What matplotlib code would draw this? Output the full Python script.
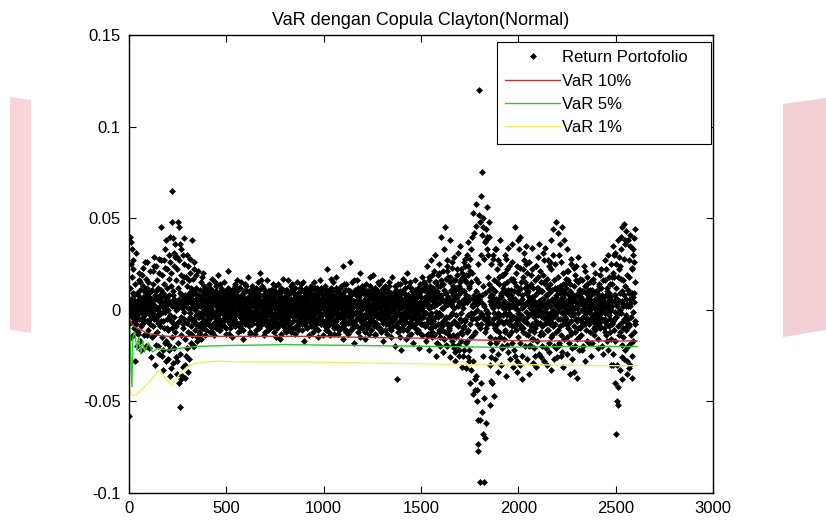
import numpy as np
import matplotlib
matplotlib.use('Agg')
import matplotlib.pyplot as plt
from matplotlib.patches import Polygon
from matplotlib.ticker import FuncFormatter

plt.rcParams['font.family'] = ['Liberation Sans', 'DejaVu Sans']

# Portfolio returns (units of 0.001) on odd days 1,3,5,...; rows of 20 points (40 days)
ret_odd_rows = [
    [-58, 4, 40, -2, 25, 37, -3, 1, 33, -14, 2, 27, -6, 8, -28, 5, 3, -11, 1, -20],
    [9, -4, 2, -13, 6, 20, -1, 3, -1, 15, -22, 5, 1, -8, 0, 23, -6, 4, -3, 10],
    [-6, 2, 17, -2, 7, -14, 4, 26, -1, 0, 9, -21, 3, 3, -5, 1, -26, 6, 11, -2],
    [21, -3, 3, 29, -5, 8, -30, 2, 1, -5, 24, -12, 6, 6, -20, 0, -3, 28, -9, 2],
    [-2, 45, 7, -25, 4, 2, -33, 9, -6, 27, 1, -18, 33, -1, 5, -28, 7, -10, 22, 0],
    [3, -22, 30, 8, -36, 40, -3, 4, -6, 48, 65, -10, 8, -29, 31, 6, -4, 2, 36, -8],
    [-26, 0, 4, 29, -35, 1, 48, -40, 45, 6, -53, 5, -4, 33, -38, 8, 2, -31, 3, -8],
    [39, -1, 18, -37, 6, 3, -25, 2, 30, -7, 7, -34, 1, -5, 5, 28, -2, 9, -13, 4],
    [-9, 6, 38, -20, 5, 1, -5, 22, -7, 0, 9, -7, 6, -17, 3, 3, -4, 7, 2, -12],
    [5, -8, 2, 3, -16, 2, -4, 18, -3, 7, -10, 4, 0, 10, -1, 12, -6, 4, 2, -5],
    [6, -3, 11, -8, 2, 14, -5, 4, -12, 9, 1, -4, 17, -10, 5, -1, 10, -7, 3, -14],
    [-3, 8, -10, 4, 13, -2, 6, -7, 1, 19, -5, 9, 0, -11, 5, 3, -9, 12, -2, 7],
    [9, -5, 2, 15, -9, 4, -1, 10, -13, 3, 7, -4, 0, 12, -6, 21, -2, 5, -10, 1],
    [-8, 4, 9, -3, 6, -15, 2, 8, -1, 11, -5, 2, 14, -9, 4, -2, 8, -7, 16, 0],
    [5, -9, 12, 1, -4, 7, -11, 3, 15, -2, 8, -6, 4, -16, 10, 0, -4, 6, -8, 13],
    [-2, 10, -6, 5, 18, -4, 2, -9, 7, 4, -12, 6, -1, 9, -5, 13, -7, 2, 11, -3],
    [7, -5, 3, -13, 9, 0, 12, -3, 5, -8, 1, 15, -6, 4, -10, 8, -2, 20, -6, 3],
    [-6, 13, 1, -7, 4, 8, -14, 6, -3, 10, -4, 2, 7, -9, 16, -1, 5, -11, 9, 0],
    [10, -1, -10, 6, 3, -5, 11, -8, 1, 14, -3, 5, -12, 8, -2, 10, -6, 3, -15, 5],
    [1, -9, 14, -4, 7, -2, 5, -16, 9, 3, -6, 12, 0, 6, -9, 2, 17, -5, 7, -11],
    [-6, 3, 9, -12, 1, 11, -5, 6, -2, 16, -8, 4, 10, -3, -7, 13, 1, -10, 5, 2],
    [11, -3, 6, 2, -10, 8, 0, -13, 7, 4, -6, 15, -10, 3, 9, -4, 6, -1, 12, -8],
    [-4, 14, -7, 5, 1, -11, 10, -3, 6, -17, 4, 8, -5, 12, 0, -9, 5, 10, -3, 7],
    [3, -6, 10, -14, 8, 1, -4, 13, -9, 5, 2, -12, 7, -1, 15, -6, 4, -10, 9, -2],
    [-10, 6, 1, 12, -5, 9, -15, 3, 0, 10, -7, 16, 3, -8, 5, -3, 11, -6, 1, 8],
    [6, -2, 13, -7, 4, -11, 9, 1, -5, 22, -9, 4, 11, -3, 7, -14, 2, 8, -4, 12],
    [-8, 10, -1, 5, 15, -6, 3, -10, 7, 0, 12, -5, 18, -9, 2, 6, -13, 10, -3, 4],
    [9, -4, 7, -10, 1, 13, -3, 8, -16, 5, 24, -6, 4, -1, 11, -8, 4, 14, -11, 1],
    [-3, 7, -13, 11, -6, 3, 26, -7, 10, -4, 6, -10, 1, 15, -7, 9, -2, 5, -18, 11],
    [4, -9, 10, -1, 16, -5, 2, -12, 7, 11, -4, 8, -15, 4, 20, -6, 1, -10, 13, -3],
    [-7, 12, 3, -8, 5, -16, 9, 1, -4, 14, -10, 7, -2, 10, 4, -13, 8, -1, 18, -7],
    [8, -2, -11, 6, 10, -6, 1, 19, -9, 4, -3, 12, -14, 7, 2, -7, 11, -4, 5, 9],
    [-10, 5, 14, -4, 1, 8, -12, 7, -1, 11, 16, -7, 3, -17, 9, -5, 6, 13, -2, -8],
    [4, -13, 7, 11, -7, 2, 10, -4, 15, -10, 5, -1, 8, -11, 4, 18, -6, 1, -9, 7],
    [-5, 9, -20, 4, 13, -2, 7, -38, 10, -7, 3, 14, -10, 1, 8, -15, 10, -4, 6, -22],
    [10, -6, 2, -11, 17, 5, -8, 9, -1, 12, -16, 4, 7, -4, 20, -10, 1, 8, -7, 13],
    [-4, 15, -9, 6, 1, -13, 10, 4, -18, 7, 11, -3, 5, -10, 2, 16, -7, 9, -1, -12],
    [7, -11, 12, -2, 8, -21, 4, 14, -5, 10, -8, 1, 18, -14, 6, -4, 11, -8, 15, 3],
    [-9, 14, -17, 5, 24, -7, 11, -13, 2, 18, -22, 8, -4, 13, -10, 27, -2, 7, -15, 9],
    [12, -6, 21, -14, 4, 30, -9, 15, -25, 3, 10, -18, 19, -4, 7, -12, 25, -2, 13, -20],
    [-8, 16, 40, -11, 6, -23, 14, 1, -16, 33, -5, 9, 45, -19, 3, 21, -8, 27, -13, 7],
    [18, -10, 4, -26, 15, 38, -3, 11, -17, 23, 2, -14, 8, 29, -21, 6, -7, 16, -28, 12],
    [-15, 22, 7, -8, 31, -19, 13, 3, -25, 10, 35, -6, 17, -12, 5, -31, 20, 1, -10, 26],
    [10, -22, 28, -6, 15, -32, 19, 4, -17, 37, -11, 24, -28, 7, 13, -40, 21, -2, 33, -15],
    [-4, 40, -46, 2, 53, -13, 6, -44, 7, -38, 46, -5, 17, -50, 3, -77, 25, -73, 8, 120],
    [-94, 5, -60, 30, -8, 41, 75, -3, 50, -68, 13, -94, 2, -70, 37, -5, 44, -10, 56, -2],
    [33, -4, 18, 48, -7, 11, -52, 7, -15, 25, -39, 2, -22, 8, 30, -5, 16, -47, 3, -10],
    [-27, 6, -11, 33, -4, 5, 27, -34, 2, -6, 14, -16, 38, -3, 9, -30, 8, 3, -21, 1],
    [19, -3, 11, -7, 30, -12, 4, 9, -36, 1, -3, 22, -23, 8, 34, -2, 1, -27, 7, -6],
    [11, -5, 36, -9, 2, -31, 6, 17, -4, 2, -25, 6, 45, -7, -11, 3, 24, -34, 0, -2],
    [-8, 33, -3, 12, -30, 40, 4, -10, 6, -38, 1, 22, -12, 2, 31, -5, 15, -6, 35, -1],
    [25, -4, 9, -27, 3, 4, -20, 7, -35, 13, 2, -9, 19, -2, 7, 34, -16, 0, -29, 5],
    [-12, 4, -25, 8, 1, -31, 24, 2, -8, 29, -3, 12, -2, 36, -14, 5, 0, -26, 10, 3],
    [6, -20, 31, -1, 6, 15, -28, 3, -4, 34, -7, 1, -11, 8, -30, 27, 3, -5, 9, -23],
    [-8, 26, 2, -33, 38, -7, 5, -14, 0, 44, -2, 5, -27, 12, -3, 8, -21, 48, -1, 4],
    [12, -5, 42, -18, 1, 30, -9, 36, 4, -25, 6, 45, -1, 14, -31, 2, 38, -6, 9, -2],
    [-4, 17, -8, 5, -24, 33, 0, -10, 21, -1, 8, -35, 3, 2, -12, 25, -3, 7, -27, 1],
    [8, -2, 23, -34, 1, 5, -20, 4, 16, -37, 1, -6, 9, -5, 29, -15, 7, 3, -10, 11],
    [-9, 6, -22, 0, 10, -4, 3, 24, -8, 2, -28, 4, -4, 9, -2, 6, 18, -6, 1, -7],
    [3, -18, 6, 11, 0, 5, -25, 2, 2, -4, 15, -6, 25, -10, 1, 4, -11, 4, -7, 10],
    [-1, 9, -5, 2, -21, 7, 14, -3, 3, 6, -9, 0, -2, 22, -5, 6, 3, -24, 1, 7],
    [5, -12, 27, -2, 1, -6, 10, 4, -17, 3, 30, -2, 7, -9, 14, -5, 7, -30, 0, 18],
    [-8, 2, -30, 35, 8, -5, 18, -1, 31, -40, 4, -68, 6, -50, 2, -52, 38, -2, 5, 29],
    [0, -33, 40, -2, 17, -38, 5, 45, -10, 3, -27, 8, 47, -6, 36, -3, 2, 43, -9, -35],
    [-5, 38, 2, -32, 9, -8, 41, 6, -18, 4, -4, 23, -37, 7, 30, -1, 9, 39, -6, 15],
]

# Portfolio returns (units of 0.001) on even days 2,4,6,...
ret_even_rows = [
    [3, -7, 12, 0, -15, 6, 18, -4, 9, -1, 22, -10, 5, 1, -6, 14, -2, 31, -8, 4],
    [-3, 8, -12, 2, 16, -5, 0, 11, -17, 6, 3, -9, 19, -1, 7, -4, 13, -14, 2, 26],
    [5, -2, 9, -20, 1, 12, -6, 4, 15, -11, 0, 7, -3, 21, -8, 10, 2, -15, 6, -1],
    [-9, 14, 0, -4, 24, -13, 6, 2, -19, 10, -3, 16, 1, -7, 12, -24, 5, 20, -2, 8],
    [11, -6, 27, -15, 3, 19, -1, -22, 8, 14, -10, 2, 23, -17, 6, 38, -5, 12, -27, 4],
    [-11, 17, 5, -19, 26, -4, 13, -32, 20, 2, -15, 39, -7, 10, 24, -21, 4, -12, 29, 1],
    [16, -9, 22, -28, 3, 12, -18, 27, -6, 36, -24, 9, 19, -14, 1, -36, 15, 30, -10, 6],
    [-5, 25, -16, 8, -30, 18, 2, 13, -21, 5, 24, -12, 16, -27, 9, -4, 20, -18, 1, 12],
    [8, -14, 3, 17, -6, 26, -20, 10, 1, -11, 19, -3, 12, 2, -15, 8, 21, -9, 5, -2],
    [-4, 11, -13, 6, 15, -2, 8, -10, 3, 20, -6, 0, 13, -8, 5, -14, 9, 1, -11, 6],
    [2, -6, 8, 0, -3, 5, -9, 12, 1, -4, 7, -2, 3, -12, 6, 9, -1, 4, -7, 15],
    [-1, 4, -5, 10, 2, -8, 6, 0, -3, 8, -11, 3, 14, -2, 1, -6, 5, 11, -9, 2],
    [4, -2, 7, -6, 1, 9, -3, 5, 2, -10, 6, -1, 8, -4, 3, -13, 10, 0, 6, -5],
    [-2, 6, 1, 11, -7, 3, -4, 0, 8, -5, 13, -9, 2, 5, -3, 7, -1, 10, -12, 4],
    [6, -3, 2, -9, 5, 12, -1, 7, -6, 3, 0, 9, -11, 4, 1, -5, 14, -3, 6, -1],
    [1, 5, -8, 3, -2, 7, 10, -4, 0, -13, 6, 2, -6, 9, 4, -1, -8, 5, 12, -3],
    [-5, 2, 9, -1, 6, -11, 3, 8, -2, 5, -7, 1, 11, -4, 7, 2, -9, 4, -2, 16],
    [3, -7, 5, 12, -3, 1, -5, 0, 9, -12, 4, 7, -1, 3, -6, 10, 1, -3, 8, -8],
    [-3, 8, 0, -6, 11, -2, 6, 3, -9, 2, 7, -4, 1, 13, -7, 4, -1, 9, 2, -10],
    [5, -1, 6, 2, -8, 10, -4, 3, 0, 7, -13, 5, 2, -3, 11, -6, 1, -2, 6, 3],
    [0, -4, 11, -7, 3, 1, 8, -10, 5, -2, 4, -6, 9, 1, -3, 6, -12, 3, 14, -1],
    [-6, 3, -1, 9, -4, 12, 2, -3, 6, -9, 1, 5, -2, 8, -11, 0, 7, -5, 3, 10],
    [7, -2, 4, -8, 1, 6, -5, 15, -1, 3, -7, 10, 2, -4, 5, -10, 1, 8, -3, 0],
    [-3, 9, -6, 2, 5, -1, 11, -7, 3, 0, 8, -3, -9, 6, 2, -5, 12, -2, 4, -8],
    [4, 1, -5, 7, -11, 3, 0, 9, -4, 6, -2, 1, -8, 12, 3, -6, 2, 7, -14, 5],
    [-2, 6, 3, -9, 4, 11, -3, 5, 0, -7, 8, -1, 3, -12, 6, 2, -4, 17, -6, 1],
    [5, -8, 1, 4, -3, 8, -13, 2, 7, -1, 3, -6, 10, 0, -9, 5, 2, -3, 9, -11],
    [-4, 3, 12, -2, 6, -7, 1, 4, -10, 9, 2, -5, 14, -3, 7, -1, -12, 5, 1, 6],
    [2, -7, 5, 0, -4, 10, -2, 8, 3, -11, 6, -3, 1, 9, -6, 4, 16, -8, 3, -2],
    [-6, 4, -1, 8, 3, -9, 6, -4, 12, 1, -2, 7, -10, 5, 0, 11, -5, 3, -7, 9],
    [3, -5, 9, -3, 1, 6, -12, 4, 2, -7, 10, 0, -4, 6, -9, 3, 1, 13, -2, -6],
    [-1, 7, -4, 2, 11, -6, 3, 0, 8, -3, 5, -13, 4, 9, -2, 6, -8, 1, 15, -4],
    [6, -2, 3, -10, 5, 1, 9, -5, -1, 7, -4, 12, -7, 2, 4, -3, 10, -11, 3, 0],
    [-5, 10, 1, -3, 7, -8, 4, 13, -2, 5, 0, -6, 9, -15, 3, 6, -1, 8, -4, 2],
    [2, -4, 7, -1, -9, 5, 11, -3, 6, 1, -12, 4, -2, 8, -6, 3, 14, -5, 1, -10],
    [-3, 6, -8, 4, 2, -1, 9, -6, 15, -4, 3, 7, -11, 1, 5, -2, 8, -14, 6, 2],
    [5, -1, 4, -7, 12, 3, -5, 8, 0, -9, 6, 2, -3, 11, -8, 4, 1, -5, 9, -2],
    [-2, 8, -6, 3, 1, 10, -4, 0, 7, -13, 5, 2, -8, 4, 12, -3, 6, -1, -9, 7],
    [4, -8, 12, -2, 7, -14, 3, 9, -5, 1, 16, -10, 6, -3, 11, -7, 2, 19, -12, 5],
    [-6, 10, 2, -13, 8, -4, 15, -1, 6, -18, 9, 3, -8, 13, -2, 20, -11, 4, 7, -15],
    [8, -3, 14, -9, 1, 21, -6, 5, -16, 11, 2, -12, 17, -4, 9, -20, 6, 24, -8, 3],
    [-11, 6, -4, 18, -15, 3, 10, -8, 26, -2, 13, -19, 5, -6, 16, 1, -23, 11, -3, 8],
    [7, -14, 19, 2, -9, 12, -22, 4, 15, -5, 9, -17, 22, -2, 11, -13, 3, 18, -25, 6],
    [-9, 16, -5, 24, -18, 8, 30, -12, 4, -26, 19, -3, 12, -22, 28, -8, 6, -33, 15, 2],
    [20, -5, 3, -28, 8, -2, 42, -12, 5, -36, 10, 58, -8, 0, -44, 15, -60, 6, -4, 52],
    [-10, 48, -2, 62, -40, 8, -56, 3, -25, 45, -5, 28, -48, 9, -12, 38, -62, 0, -8, 40],
    [-2, 30, -6, 14, 40, -18, 5, -30, 8, 3, -26, 12, -40, 1, -8, 28, -2, 6, 33, -16],
    [10, -18, 4, 22, -8, 15, -24, 6, -2, 18, -12, 3, 25, -15, 7, -6, 19, -20, 2, 12],
    [-7, 14, -16, 5, 20, -2, -11, 28, -6, 9, 15, -19, 3, 11, -8, 24, -14, 6, -3, 17],
    [8, -12, 3, 26, -18, 6, -4, 15, -22, 10, 1, -9, 20, -5, 13, -28, 4, 9, -15, 38],
    [-5, 11, -18, 4, 23, -9, 15, -3, 8, -25, 18, 2, -10, 27, -6, 12, -20, 3, 9, -13],
    [13, -7, 20, -14, 5, 10, -3, 26, -11, 1, -19, 14, 6, -8, 22, -16, 3, 12, -4, -21],
    [-2, 16, -10, 3, 24, -6, 9, -17, 12, -1, 18, -24, 5, 10, -7, 21, -12, 2, 15, -9],
    [10, -4, 19, -13, 2, -8, 27, -5, 14, 1, -21, 8, -2, 17, -11, 5, 12, -18, 24, -3],
    [-6, 14, -1, 22, -15, 6, 11, -9, 30, -4, 16, -20, 3, -8, 25, -12, 7, 2, -26, 11],
    [4, -11, 18, 2, -19, 13, -5, 9, -14, 26, -2, 11, -23, 7, 20, -8, 3, -16, 14, 1],
    [9, -5, 12, -15, 3, 21, -8, 16, -2, 6, -18, 10, 14, -6, 28, -13, 4, 1, -21, 8],
    [-3, 13, -9, 6, 19, -12, 2, -5, 24, -16, 8, 15, -2, -10, 11, 4, -22, 9, 17, -6],
    [7, -14, 3, 16, -4, 10, -20, 5, 1, 13, -8, 21, -11, 4, -2, 14, -17, 8, -5, 11],
    [-8, 5, 15, -2, -12, 8, 2, -18, 11, 4, -6, 17, -3, 9, -14, 6, 20, -9, 1, -4],
    [6, -3, 10, -16, 4, 13, -7, 1, 19, -10, 3, -5, 12, -1, 8, -20, 5, 16, -6, 2],
    [-10, 16, -5, 8, 22, -14, 3, -8, 12, 1, -22, 9, 18, -3, -12, 6, 25, -16, 4, -7],
    [14, -6, 20, -24, 5, 30, -11, 8, -17, 25, -4, 12, -30, 3, 18, -9, -42, 22, -14, 9],
    [-12, 24, -7, 33, -19, 10, -26, 16, 2, -15, 28, -5, 13, -22, 38, -11, 6, -28, 19, 3],
    [11, -20, 27, -9, 18, 2, -30, 35, -14, 6, 22, -25, 9, 33, -17, 4, -12, 26, -8, 44],
]

# VaR curves (breakpoints)
var10_x = [1, 8, 15, 25, 40, 60, 80, 100, 130, 160, 200, 260, 350, 450, 600, 900, 1200, 1500, 1800, 2100, 2400, 2610]
var10_y = [-0.005, -0.006, -0.008, -0.009, -0.010, -0.011, -0.012, -0.013, -0.0135, -0.014, -0.0145, -0.0145,
           -0.0145, -0.0145, -0.0145, -0.0145, -0.015, -0.0155, -0.0165, -0.017, -0.017, -0.017]
var5_x = [1, 5, 10, 15, 20, 30, 40, 50, 60, 70, 80, 100, 120, 150, 200, 260, 350, 500, 800, 1200, 1600, 1900, 2300, 2610]
var5_y = [-0.008, -0.010, -0.030, -0.042, -0.015, -0.012, -0.022, -0.015, -0.024, -0.017, -0.023, -0.018,
          -0.023, -0.021, -0.022, -0.021, -0.020, -0.0195, -0.019, -0.0195, -0.020, -0.0205, -0.020, -0.020]
var1_x = [1, 10, 20, 40, 60, 80, 100, 130, 160, 190, 220, 260, 300, 350, 450, 600, 900, 1200, 1500, 1800, 2100, 2400, 2610]
var1_y = [-0.042, -0.046, -0.047, -0.046, -0.044, -0.042, -0.040, -0.036, -0.033, -0.038, -0.041, -0.035,
          -0.031, -0.029, -0.028, -0.0285, -0.0285, -0.029, -0.0295, -0.030, -0.030, -0.0305, -0.0305]

x_ticks = [0, 500, 1000, 1500, 2000, 2500, 3000]
y_ticks = [-0.1, -0.05, 0, 0.05, 0.1, 0.15]
legend_labels = ['Return Portofolio', 'VaR 10%', 'VaR 5%', 'VaR 1%']

ret_odd = np.array([v for row in ret_odd_rows for v in row], dtype=float) / 1000.0
ret_even = np.array([v for row in ret_even_rows for v in row], dtype=float) / 1000.0
day = np.concatenate([np.arange(len(ret_odd)) * 2 + 1, np.arange(len(ret_even)) * 2 + 2])
ret = np.concatenate([ret_odd, ret_even])
order = np.argsort(day)
day, ret = day[order], ret[order]

W, H = 826, 528
fig = plt.figure(figsize=(W / 100, H / 100), dpi=100)

# faint pink watermark shapes at the figure edges
def fpt(x, y):
    return (x / W, 1 - y / H)

fig.patches.append(Polygon([fpt(10, 97), fpt(31, 100), fpt(31, 333), fpt(10, 330)], closed=True,
                           transform=fig.transFigure, facecolor='#f9d4d8', edgecolor='none', zorder=0))
fig.patches.append(Polygon([fpt(783, 104), fpt(826, 98), fpt(826, 330), fpt(783, 337)], closed=True,
                           transform=fig.transFigure, facecolor='#f0d0d4', edgecolor='none', zorder=0))

ax = fig.add_axes([129 / W, 35 / H, 584 / W, 458 / H])
ax.patch.set_alpha(0)

ax.plot(day, ret, linestyle='none', marker='D', color='black', ms=3.5, mew=0, label=legend_labels[0])
ax.plot(var10_x, var10_y, color='#b83a3a', lw=1, label=legend_labels[1])
ax.plot(var5_x, var5_y, color='#2ec82e', lw=1, label=legend_labels[2])
ax.plot(var1_x, var1_y, color='#f2ee6a', lw=1, label=legend_labels[3])

ax.set_xlim(0, 3000)
ax.set_ylim(-0.1, 0.15)
ax.set_xticks(x_ticks)
ax.set_yticks(y_ticks)
ax.yaxis.set_major_formatter(FuncFormatter(lambda v, p: '%g' % round(v, 4)))
ax.tick_params(direction='in', top=True, right=True, length=5, width=0.8, labelsize=12, pad=6,
               colors='black')
for s in ax.spines.values():
    s.set_linewidth(1.0)
    s.set_color('black')

ax.set_title('VaR dengan Copula Clayton(Normal)', fontsize=13, pad=7)

lx0 = (497 - 129) / 584
lw_ = (711 - 497) / 584
ltop = 1 - (42 - 35) / 458
leg = ax.legend(loc='upper left', bbox_to_anchor=(lx0, 0, lw_, ltop), mode='expand',
                borderaxespad=0, fancybox=False, fontsize=12, handlelength=3.3, handletextpad=0.1,
                borderpad=0.5, labelspacing=0.5, numpoints=1, framealpha=1)
leg.get_frame().set_edgecolor('black')
leg.get_frame().set_linewidth(0.8)

fig.savefig('out.png', dpi=100)
